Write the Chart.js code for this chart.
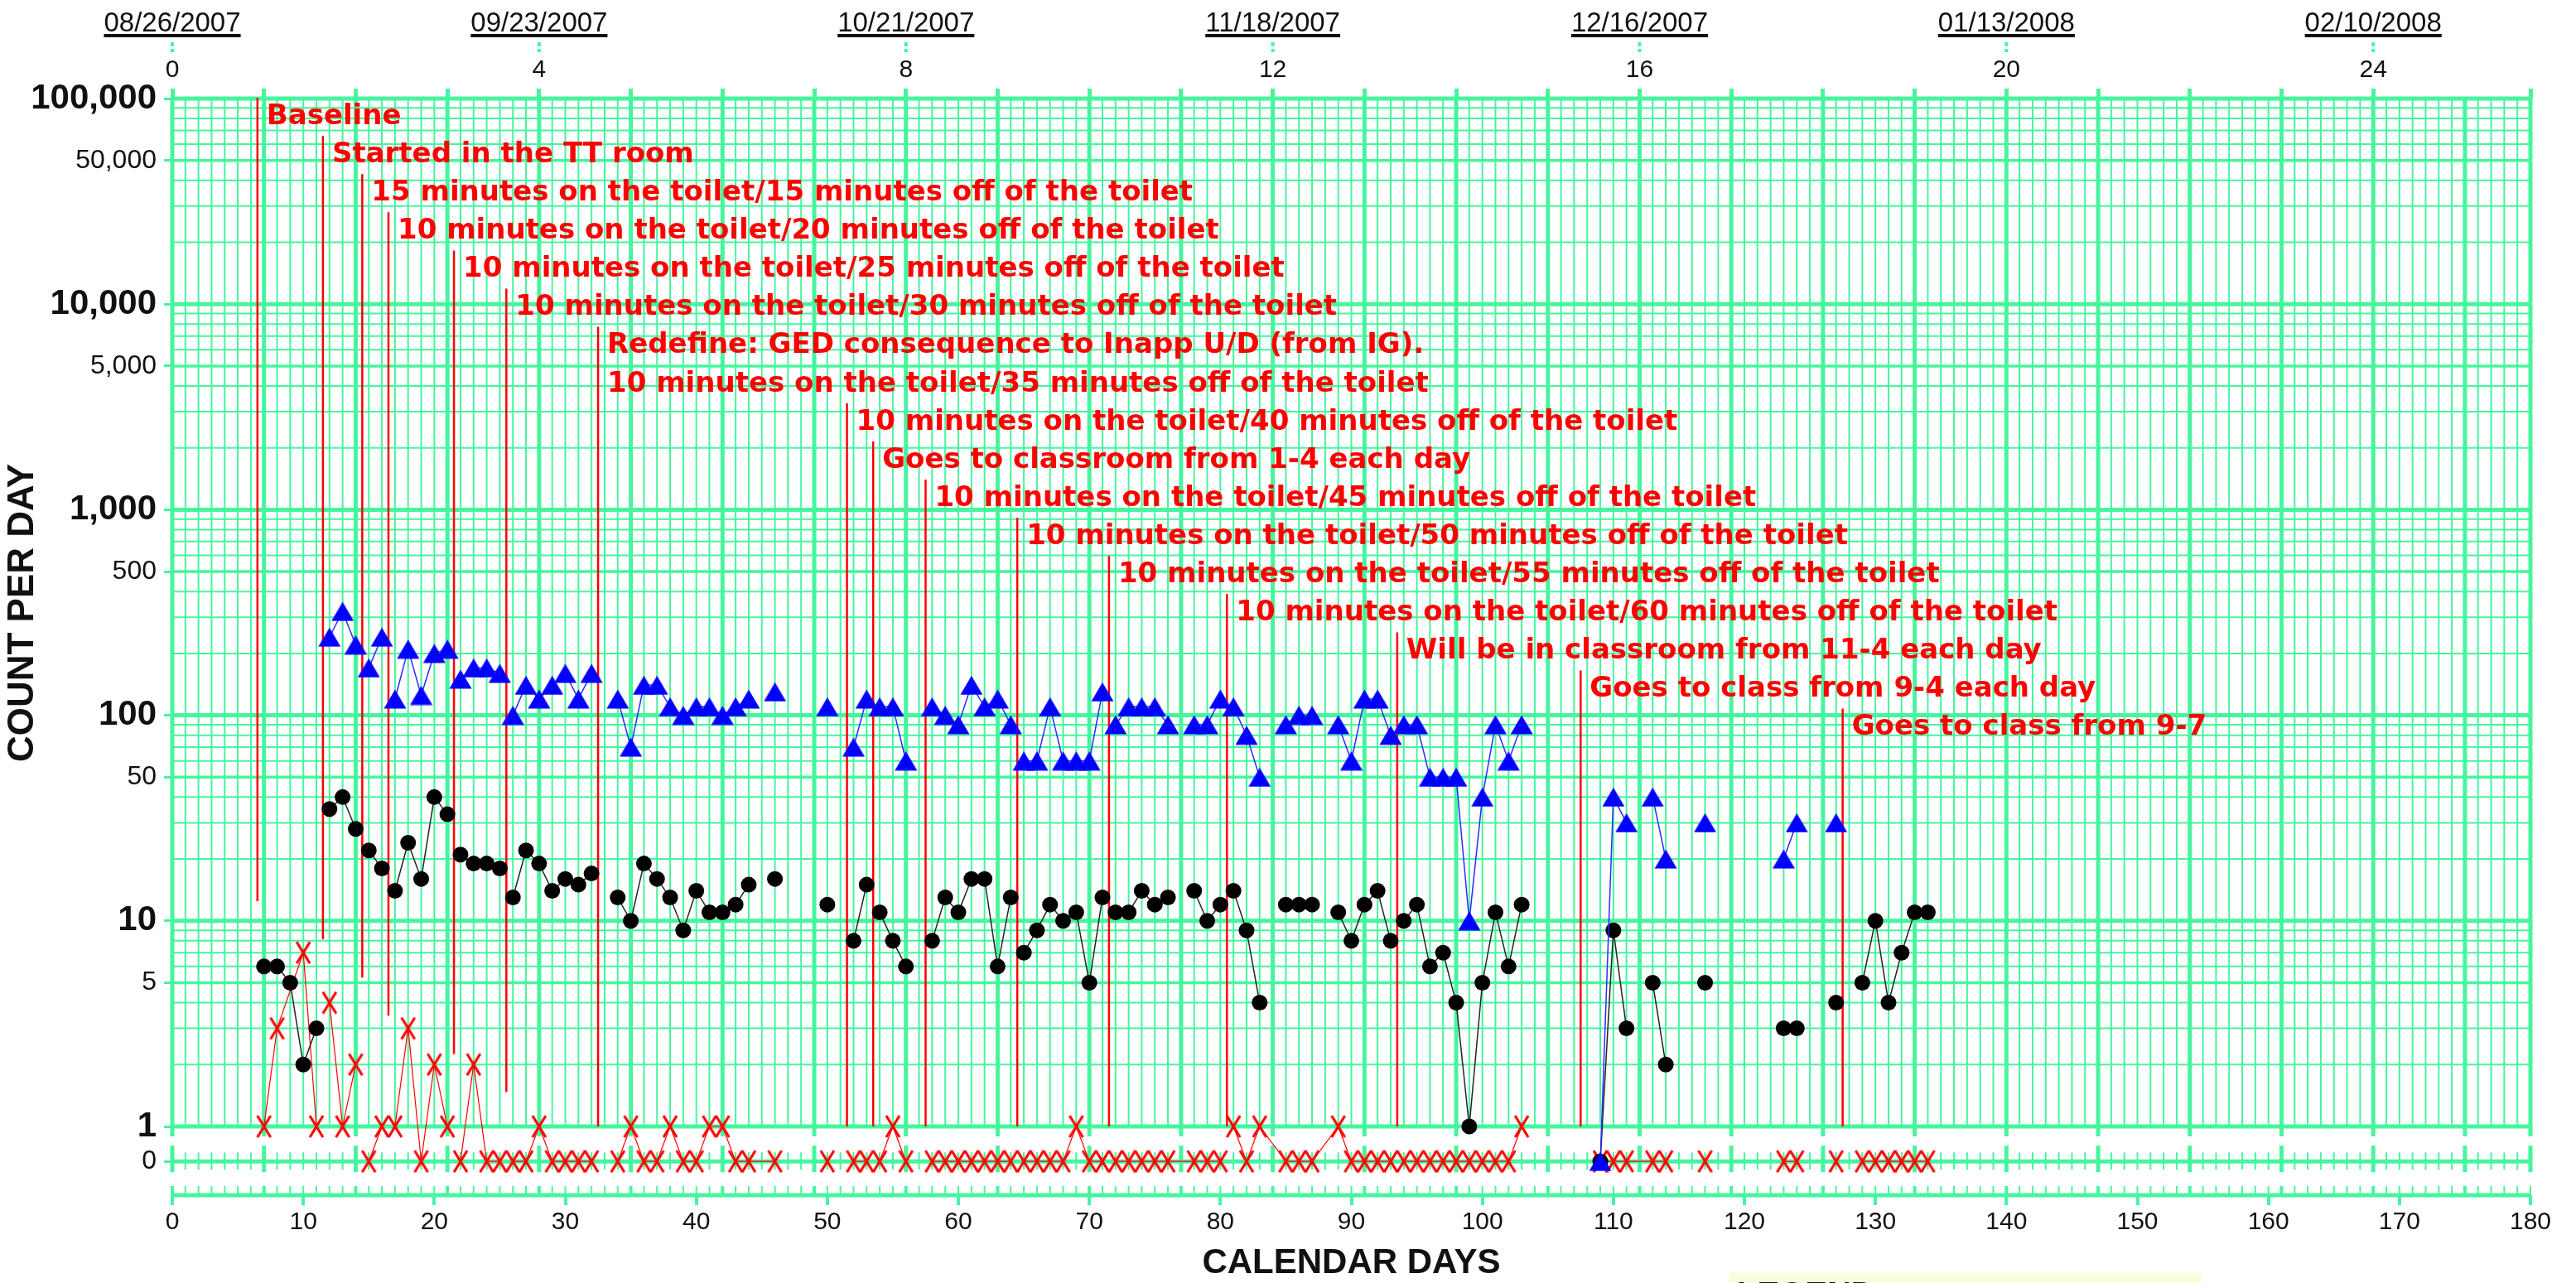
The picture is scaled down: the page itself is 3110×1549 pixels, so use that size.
<!DOCTYPE html>
<html>
<head>
<meta charset="utf-8">
<title>Count Per Day - Calendar Days</title>
<style>
    html, body {
        margin: 0;
        padding: 0;
        background: #ffffff;
        overflow: hidden;
    }
    #chart-container {
        width: 3110px;
        height: 1549px;
    }
</style>
<script src="https://cdn.jsdelivr.net/npm/chart.js@4"></script>
</head>
<body>
<div id="chart-container">
    <canvas id="chart" width="3110" height="1549"></canvas>
</div>
<script>
// ---- data ----
const days = [7, 8, 9, 10, 11, 12, 13, 14, 15, 16, 17, 18, 19, 20, 21, 22, 23, 24, 25, 26, 27, 28, 29, 30, 31, 32,
    34, 35, 36, 37, 38, 39, 40, 41, 42, 43, 44, 46, 50, 52, 53, 54, 55, 56,
    58, 59, 60, 61, 62, 63, 64, 65, 66, 67, 68, 69, 70, 71, 72, 73, 74, 75, 76,
    78, 79, 80, 81, 82, 83, 85, 86, 87,
    89, 90, 91, 92, 93, 94, 95, 96, 97, 98, 99, 100, 101, 102, 103,
    109, 110, 111, 113, 114, 117, 123, 124, 127, 129, 130, 131, 132, 133, 134];

const blueCounts = [null, null, null, null, null, 240, 320, 220, 170, 240, 120, 210, 125, 200, 210, 150, 170, 170, 160, 100, 140, 120, 140, 160, 120, 160,
    120, 70, 140, 140, 110, 100, 110, 110, 100, 110, 120, 130, 110, 70, 120, 110, 110, 60,
    110, 100, 90, 140, 110, 120, 90, 60, 60, 110, 60, 60, 60, 130, 90, 110, 110, 110, 90,
    90, 90, 120, 110, 80, 50, 90, 100, 100,
    90, 60, 120, 120, 80, 90, 90, 50, 50, 50, 10, 40, 90, 60, 90,
    0, 40, 30, 40, 20, 30, 20, 30, 30, null, null, null, null, null, null];

const blackCounts = [6, 6, 5, 2, 3, 35, 40, 28, 22, 18, 14, 24, 16, 40, 33, 21, 19, 19, 18, 13, 22, 19, 14, 16, 15, 17,
    13, 10, 19, 16, 13, 9, 14, 11, 11, 12, 15, 16, 12, 8, 15, 11, 8, 6,
    8, 13, 11, 16, 16, 6, 13, 7, 9, 12, 10, 11, 5, 13, 11, 11, 14, 12, 13,
    14, 10, 12, 14, 9, 4, 12, 12, 12,
    11, 8, 12, 14, 8, 10, 12, 6, 7, 4, 1, 5, 11, 6, 12,
    0, 9, 3, 5, 2, 5, 3, 3, 4, 5, 10, 4, 7, 11, 11];

const redCounts = [1, 3, null, 7, 1, 4, 1, 2, 0, 1, 1, 3, 0, 2, 1, 0, 2, 0, 0, 0, 0, 1, 0, 0, 0, 0,
    0, 1, 0, 0, 1, 0, 0, 1, 1, 0, 0, 0, 0, 0, 0, 0, 1, 0,
    0, 0, 0, 0, 0, 0, 0, 0, 0, 0, 0, 1, 0, 0, 0, 0, 0, 0, 0,
    0, 0, 0, 1, 0, 1, 0, 0, 0,
    1, 0, 0, 0, 0, 0, 0, 0, 0, 0, 0, 0, 0, 0, 1,
    0, 0, 0, 0, 0, 0, 0, 0, 0, 0, 0, 0, 0, 0, 0];

const phaseDays = [6.5, 11.5, 14.5, 16.5, 21.5, 25.5, 32.5, 51.5, 53.5, 57.5, 64.5, 71.5, 80.5, 93.5, 107.5, 127.5];
const phaseLabels = [
    ['Baseline'],
    ['Started in the TT room'],
    ['15 minutes on the toilet/15 minutes off of the toilet'],
    ['10 minutes on the toilet/20 minutes off of the toilet'],
    ['10 minutes on the toilet/25 minutes off of the toilet'],
    ['10 minutes on the toilet/30 minutes off of the toilet'],
    ['Redefine: GED consequence to Inapp U/D (from IG).', '10 minutes on the toilet/35 minutes off of the toilet'],
    ['10 minutes on the toilet/40 minutes off of the toilet'],
    ['Goes to classroom from 1-4 each day'],
    ['10 minutes on the toilet/45 minutes off of the toilet'],
    ['10 minutes on the toilet/50 minutes off of the toilet'],
    ['10 minutes on the toilet/55 minutes off of the toilet'],
    ['10 minutes on the toilet/60 minutes off of the toilet'],
    ['Will be in classroom from 11-4 each day'],
    ['Goes to class from 9-4 each day'],
    ['Goes to class from 9-7']
];

const yTickCounts = [100000, 50000, 10000, 5000, 1000, 500, 100, 50, 10, 5, 1, 0];
const yTickLabels = ['100,000', '50,000', '10,000', '5,000', '1,000', '500', '100', '50', '10', '5', '1', '0'];
const weekTicks = [0, 4, 8, 12, 16, 20, 24];
const weekDates = ['08/26/2007', '09/23/2007', '10/21/2007', '11/18/2007', '12/16/2007', '01/13/2008', '02/10/2008'];

// ---- chart setup ----
const GRID_GREEN = '#46f59e';
const ZERO_ROW = -0.17;      // where the "0" count row sits below the 1 line (in decades)
const Y_MIN = -0.3344;
const Y_MAX = 5;
const MAX_DAY = 180;

function toY(v) {
    if (v === null) return null;
    return v === 0 ? ZERO_ROW : Math.log10(v);
}

function toPoints(counts) {
    return days.map((d, i) => ({ x: d, y: toY(counts[i]) }));
}

// hide a line segment if it jumps over missing days or over a phase change line
function segmentColor(maxGap) {
    return ctx => {
        const a = ctx.p0.parsed.x;
        const b = ctx.p1.parsed.x;
        if (b - a > maxGap) return 'transparent';
        if (phaseDays.some(p => p > a && p < b)) return 'transparent';
        return undefined;
    };
}

function makeTriangle() {
    const c = document.createElement('canvas');
    c.width = 28;
    c.height = 24;
    const g = c.getContext('2d');
    g.fillStyle = '#0000ff';
    g.beginPath();
    g.moveTo(14, 0.5);
    g.lineTo(27.5, 23.5);
    g.lineTo(0.5, 23.5);
    g.closePath();
    g.fill();
    return c;
}

function makeCross() {
    const c = document.createElement('canvas');
    c.width = 22;
    c.height = 30;
    const g = c.getContext('2d');
    g.strokeStyle = '#ff0000';
    g.lineWidth = 3.2;
    g.beginPath();
    g.moveTo(3, 2);
    g.lineTo(19, 28);
    g.moveTo(19, 2);
    g.lineTo(3, 28);
    g.stroke();
    return c;
}

// green celeration grid, zero row and phase change lines
const celerationGrid = {
    id: 'celerationGrid',
    beforeDatasetsDraw(chart) {
        const { ctx, chartArea: a, scales: { x, y } } = chart;
        const yTop = y.getPixelForValue(Y_MAX);
        const yOne = y.getPixelForValue(0);
        const yZero = y.getPixelForValue(ZERO_ROW);
        const yBase = a.bottom;

        ctx.save();
        ctx.strokeStyle = GRID_GREEN;
        const hline = (py, w) => {
            ctx.lineWidth = w;
            ctx.beginPath();
            ctx.moveTo(a.left, py);
            ctx.lineTo(a.right, py);
            ctx.stroke();
        };
        const vline = (px, y0, y1, w) => {
            ctx.lineWidth = w;
            ctx.beginPath();
            ctx.moveTo(px, y0);
            ctx.lineTo(px, y1);
            ctx.stroke();
        };

        for (let d = 0; d < 5; d++) {
            for (let k = 1; k <= 9; k++) {
                const py = y.getPixelForValue(d + Math.log10(k));
                hline(py, k === 1 ? 5 : (k === 5 ? 3.5 : 2));
            }
        }
        hline(yTop, 5);

        for (let day = 0; day <= MAX_DAY; day++) {
            const px = x.getPixelForValue(day);
            const week = day % 7 === 0;
            vline(px, yTop, yOne + (week ? 12 : 0), week ? 5 : 2);
            vline(px, yZero - (week ? 19 : 11), yZero + (week ? 13 : 10), week ? 5 : 2);
            vline(px, yBase - 11, yBase, week ? 4 : 2);
        }
        vline(a.right, yTop, yOne + 12, 5);
        vline(a.right, yZero - 19, yZero + 13, 5);
        hline(yZero, 5);
        hline(yBase, 5);

        // phase change lines with their notes
        ctx.font = 'bold 34px "DejaVu Sans"';
        ctx.textBaseline = 'middle';
        ctx.textAlign = 'left';
        const rowGap = 46.1;
        let row = 0;
        phaseDays.forEach((day, i) => {
            const px = x.getPixelForValue(day);
            const rowY = a.top + 22 + row * rowGap;
            const top = rowY - 23;
            const bottom = Math.min(top + 970, yOne);
            ctx.strokeStyle = '#ff0000';
            vline(px, top, bottom, 2.5);
            ctx.fillStyle = '#ff0000';
            phaseLabels[i].forEach((txt, j) => {
                ctx.fillText(txt, px + 11, rowY + j * rowGap);
            });
            row += phaseLabels[i].length;
        });
        ctx.restore();
    }
};

// dates over the week axis, axis titles and the legend box
const chartDecor = {
    id: 'chartDecor',
    afterDraw(chart) {
        const { ctx, chartArea: a, scales: { x2 } } = chart;
        ctx.save();
        ctx.font = '33px "Liberation Sans"';
        ctx.textAlign = 'center';
        ctx.textBaseline = 'alphabetic';
        weekTicks.forEach((w, i) => {
            const px = x2.getPixelForValue(w);
            ctx.fillStyle = '#111';
            ctx.fillText(weekDates[i], px, 38);
            const tw = ctx.measureText(weekDates[i]).width;
            ctx.fillRect(px - tw / 2, 41, tw, 4);
            ctx.strokeStyle = GRID_GREEN;
            ctx.lineWidth = 4;
            ctx.setLineDash([5, 3]);
            ctx.beginPath();
            ctx.moveTo(px, 51);
            ctx.lineTo(px, 63);
            ctx.stroke();
            ctx.setLineDash([]);
        });

        ctx.fillStyle = '#111';
        ctx.font = 'bold 42px "Liberation Sans"';
        ctx.textBaseline = 'middle';
        ctx.fillText('CALENDAR DAYS', (a.left + a.right) / 2, 1525);

        ctx.save();
        ctx.translate(28, 740);
        ctx.rotate(-Math.PI / 2);
        ctx.font = 'bold 44px "Liberation Sans"';
        ctx.fillText('COUNT PER DAY', 0, 0);
        ctx.restore();

        ctx.fillStyle = '#fbfbdd';
        ctx.fillRect(2088, 1537, 569, 12);
        ctx.fillStyle = '#111';
        ctx.textAlign = 'left';
        ctx.textBaseline = 'top';
        ctx.font = 'bold 40px "Liberation Sans"';
        ctx.fillText('LEGEND', 2097, 1545);
        ctx.restore();
    }
};

const ctx = document.getElementById('chart').getContext('2d');
new Chart(ctx, {
    type: 'line',
    data: {
        datasets: [{
            label: 'Blue',
            data: toPoints(blueCounts),
            borderColor: '#2a2aff',
            borderWidth: 1.5,
            pointStyle: makeTriangle(),
            pointRadius: 12,
            pointHoverRadius: 12,
            spanGaps: false,
            segment: { borderColor: segmentColor(1) }
        }, {
            label: 'Black',
            data: toPoints(blackCounts),
            borderColor: '#222222',
            borderWidth: 1.5,
            pointStyle: 'circle',
            pointRadius: 9.5,
            pointHoverRadius: 9.5,
            pointBackgroundColor: '#000000',
            pointBorderWidth: 0,
            spanGaps: false,
            segment: { borderColor: segmentColor(1) }
        }, {
            label: 'Red',
            data: toPoints(redCounts),
            borderColor: '#ff0000',
            borderWidth: 1.2,
            pointStyle: makeCross(),
            pointRadius: 12,
            pointHoverRadius: 12,
            spanGaps: 2,
            segment: { borderColor: segmentColor(2) }
        }]
    },
    options: {
        responsive: false,
        animation: false,
        events: [],
        layout: { padding: { left: 0, right: 55, top: 0, bottom: 0 } },
        plugins: {
            legend: { display: false },
            tooltip: { enabled: false }
        },
        scales: {
            x: {
                type: 'linear',
                position: 'bottom',
                min: 0,
                max: MAX_DAY,
                afterFit: s => { s.height = 106; },
                border: { display: false },
                grid: {
                    drawOnChartArea: false,
                    drawTicks: true,
                    tickLength: 12,
                    color: GRID_GREEN,
                    lineWidth: 4
                },
                ticks: {
                    stepSize: 10,
                    autoSkip: false,
                    maxRotation: 0,
                    padding: 3,
                    color: '#111',
                    font: { family: 'Liberation Sans', size: 30 }
                }
            },
            x2: {
                type: 'linear',
                position: 'top',
                min: 0,
                max: MAX_DAY / 7,
                afterFit: s => { s.height = 119; },
                border: { display: false },
                grid: {
                    drawOnChartArea: false,
                    drawTicks: true,
                    tickLength: 12,
                    color: GRID_GREEN,
                    lineWidth: 5
                },
                ticks: {
                    stepSize: 1,
                    autoSkip: false,
                    maxRotation: 0,
                    padding: 4,
                    color: '#111',
                    font: { family: 'Liberation Sans', size: 30 },
                    callback: v => (Number.isInteger(v) && weekTicks.includes(v)) ? String(v) : ''
                }
            },
            y: {
                type: 'linear',
                position: 'left',
                min: Y_MIN,
                max: Y_MAX,
                afterFit: s => { s.width = 208; },
                afterBuildTicks: s => {
                    s.ticks = yTickCounts.map(v => ({ value: toY(v) }));
                },
                border: { display: false },
                grid: {
                    drawOnChartArea: false,
                    drawTicks: true,
                    tickLength: 10,
                    color: GRID_GREEN,
                    lineWidth: 3
                },
                ticks: {
                    autoSkip: false,
                    padding: 9,
                    color: '#111',
                    callback: (v, i) => yTickLabels[i],
                    font: c => {
                        const bold = c.index !== undefined && yTickCounts[c.index] > 0 &&
                            Number.isInteger(Math.log10(yTickCounts[c.index]));
                        return bold
                            ? { family: 'Liberation Sans', size: 42, weight: 'bold' }
                            : { family: 'Liberation Sans', size: 32 };
                    }
                }
            }
        }
    },
    plugins: [celerationGrid, chartDecor]
});
</script>
</body>
</html>
